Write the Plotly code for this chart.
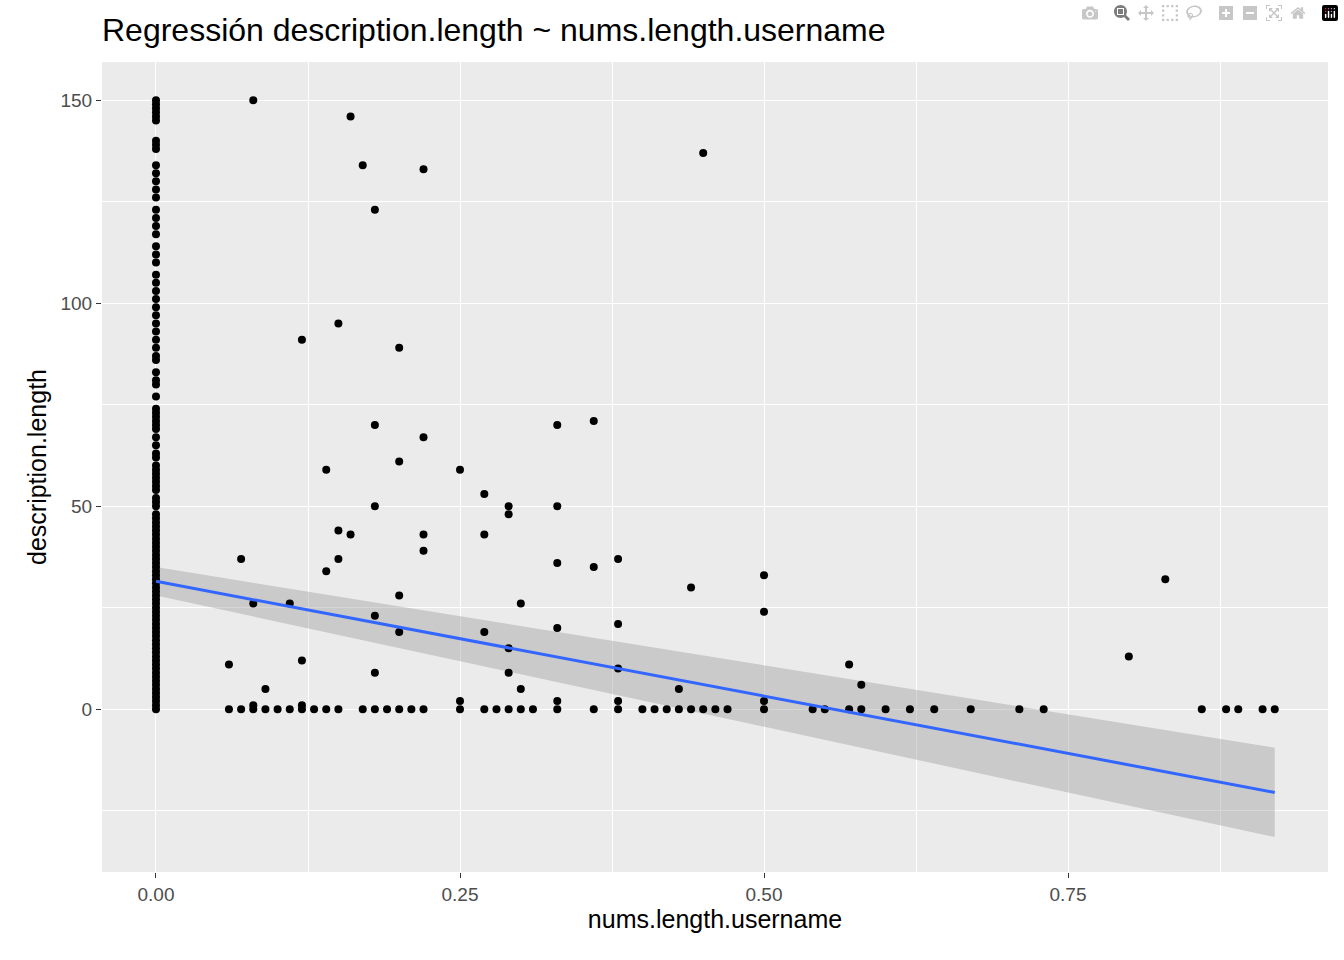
import plotly.graph_objects as go

col0_y = [150,149,148,147,146,145,140,139,138,134,132,130,128,126,123,121,119,117,114,112,110,107,105,103,101,99,97,95,93,91,89,87,86,83,81,80,77,74,73,72,71,70,69,67,65,63,62,60,59,58,57,56,55,54,52,51,50,48,47,46,45,44,43,42,41,40,39,38,37,36,35,34,33,32,31,30,29,28,27,26,25,24,23,22,21,20,19,18,17,16,15,14,13,12,11,10,9,8,7,6,5,4,3,2,1,0]
other_x = [0.08,0.16,0.17,0.22,0.18,0.45,0.15,0.12,0.20,0.18,0.22,0.20,0.14,0.25,0.33,0.36,0.27,0.29,0.29,0.18,0.33,0.15,0.16,0.22,0.27,0.22,0.07,0.15,0.38,0.33,0.36,0.14,0.50,0.83,0.44,0.20,0.08,0.11,0.30,0.50,0.18,0.38,0.33,0.20,0.27,0.29,0.12,0.06,0.57,0.38,0.80,0.18,0.29,0.58,0.09,0.30,0.43,0.25,0.33,0.38,0.50,0.08,0.12]
other_y = [150,146,134,133,123,137,95,91,89,70,67,61,59,59,70,71,53,50,48,50,50,44,43,43,43,39,37,37,37,36,35,34,33,32,30,28,26,26,26,24,23,21,20,19,19,15,12,11,11,10,13,9,9,6,5,5,5,2,2,2,2,1,1]
zero_x = [0.06,0.07,0.08,0.09,0.10,0.11,0.12,0.13,0.14,0.15,0.17,0.18,0.19,0.20,0.21,0.22,0.25,0.27,0.28,0.29,0.30,0.31,0.33,0.36,0.38,0.40,0.41,0.42,0.43,0.44,0.45,0.46,0.47,0.50,0.54,0.55,0.57,0.58,0.60,0.62,0.64,0.67,0.71,0.73,0.86,0.88,0.89,0.91,0.92]

fit_x = [0.0, 0.92]
fit_y = [31.5, -20.5]
ci_lo = [28.0, -31.5]
ci_hi = [35.0, -9.5]

xs = [0.0]*len(col0_y) + other_x + zero_x
ys = col0_y + other_y + [0]*len(zero_x)

fig = go.Figure()
fig.add_trace(go.Scatter(x=fit_x + fit_x[::-1], y=ci_hi + ci_lo[::-1], fill="toself",
                         fillcolor="rgba(153,153,153,0.4)", line=dict(width=0), mode="lines", hoverinfo="skip"))
fig.add_trace(go.Scatter(x=xs, y=ys, mode="markers", marker=dict(color="black", size=8)))
fig.add_trace(go.Scatter(x=fit_x, y=fit_y, mode="lines", line=dict(color="#3366FF", width=3)))

axis_common = dict(showgrid=True, gridcolor="white", gridwidth=1.4, zeroline=False, showline=False,
                   ticks="outside", ticklen=5, tickcolor="#333333", automargin=False,
                   tickfont=dict(size=19, color="#4d4d4d", family="Liberation Sans"),
                   minor=dict(showgrid=True, gridcolor="white", gridwidth=0.6))
fig.update_xaxes(**axis_common, range=[-0.0444, 0.9638], tickvals=[0, 0.25, 0.5, 0.75],
                 ticktext=["0.00", "0.25", "0.50", "0.75"], minor_tickvals=[0.125, 0.375, 0.625, 0.875],
                 title=dict(text="nums.length.username", font=dict(size=25, color="black", family="Liberation Sans"), standoff=6))
fig.update_yaxes(**axis_common, range=[-40.1, 159.4], tickvals=[0, 50, 100, 150],
                 minor_tickvals=[-25, 25, 75, 125],
                 title=dict(text="description.length", font=dict(size=25, color="black", family="Liberation Sans"), standoff=6))
fig.update_layout(width=1344, height=960, showlegend=False, plot_bgcolor="#EBEBEB", paper_bgcolor="white",
                  margin=dict(l=102, r=16, t=62, b=88),
                  title=dict(text="Regressión description.length ~ nums.length.username", x=102/1344, xanchor="left",
                             y=1-30/960, yanchor="middle", font=dict(size=32, color="black", family="Liberation Sans")))
fig.write_html("out.html", post_script="document.body.style.margin='0';")
